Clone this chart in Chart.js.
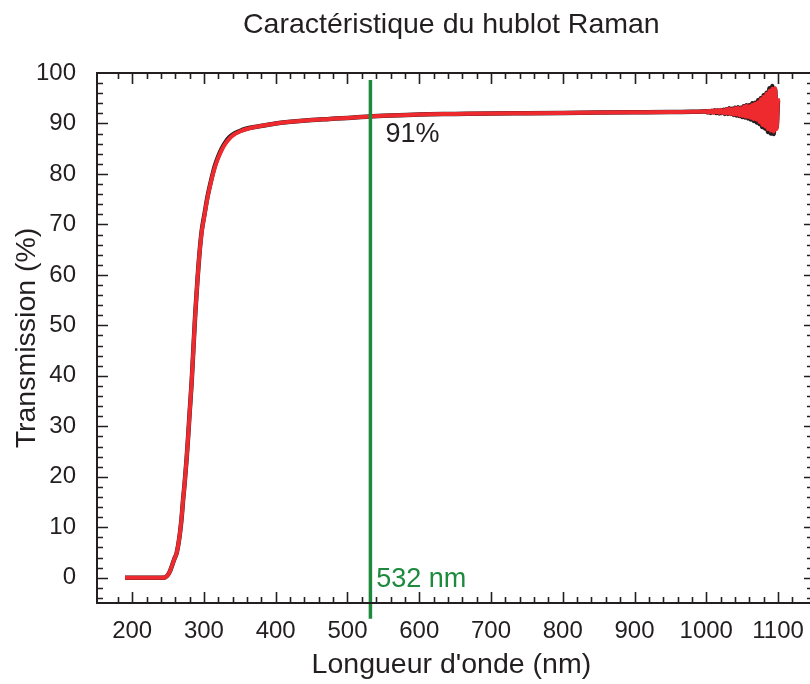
<!DOCTYPE html>
<html>
<head>
<meta charset="utf-8">
<script src="https://cdn.jsdelivr.net/npm/chart.js@4/dist/chart.umd.min.js"></script>
<style>
  html, body { margin: 0; padding: 0; background: #fff; overflow: hidden; }
  #wrap { width: 810px; height: 684px; }
</style>
</head>
<body>
<div id="wrap"><canvas id="ramanChart" width="810" height="684"></canvas></div>
<script>
// wavelength grid (nm)
const wavelengths = [
  190, 200, 220, 240, 246, 250, 253, 256, 259, 262, 265, 267, 269, 271, 273, 276, 278, 280,
  283, 285, 288, 291, 294, 297, 301, 305, 310, 315, 320, 325, 330, 335, 340, 350, 360, 375,
  400, 425, 450, 475, 500, 530, 560, 600, 650, 700, 750, 800, 850, 900, 950, 980,
  1000, 1002, 1004, 1006, 1008, 1010, 1012, 1014, 1016, 1018, 1020, 1022, 1024, 1026, 1028,
  1030, 1032, 1034, 1036, 1038, 1040, 1042, 1044, 1046, 1048, 1050, 1052, 1054, 1056, 1058,
  1060, 1062, 1064, 1066, 1068, 1070, 1072, 1074, 1076, 1078, 1080, 1082, 1084, 1086, 1088,
  1090, 1092, 1094, 1096, 1098, 1100
];

// transmission (%), second measurement (red)
const transRed = [
  0, 0, 0, 0, 0.1, 0.6, 1.4, 2.6, 3.8, 4.9, 7.2, 9.3, 12, 15.5, 18.5, 23.8, 28, 32.5,
  39, 44.5, 52.5, 59, 64.5, 68.6, 72, 75.3, 78.5, 81.2, 83.2, 84.8, 86, 86.9, 87.6, 88.4, 88.9, 89.4,
  90, 90.4, 90.7, 90.9, 91.1, 91.4, 91.6, 91.8, 91.9, 92, 92.05, 92.1, 92.15, 92.2, 92.25, 92.3,
  92.4, 92.2, 92.5, 92.2, 92.5, 92.1, 92.6, 92.2, 92.6, 92.1, 92.7, 92.1, 92.6, 92.0, 92.8,
  92.0, 92.9, 91.9, 92.8, 91.8, 93.0, 91.8, 93.1, 91.6, 93.0, 91.5, 93.3, 91.4, 93.5, 91.3,
  93.4, 91.1, 93.7, 90.9, 93.9, 90.8, 94.2, 90.3, 94.8, 89.7, 95.3, 89.4, 95.9, 88.9, 96.5,
  88.6, 96.9, 88.4, 97.0, 88.9, 95.0
];

// transmission (%), first measurement (black)
const transBlack = [
  0, 0, 0, 0, 0.1, 0.6, 1.4, 2.6, 3.8, 4.9, 7.2, 9.3, 12, 15.5, 18.5, 23.8, 28, 32.5,
  39, 44.5, 52.5, 59, 64.6, 68.8, 72.2, 75.5, 78.7, 81.5, 83.5, 85.1, 86.3, 87.2, 87.8, 88.5, 89.0, 89.4,
  90, 90.4, 90.7, 90.9, 91.1, 91.4, 91.6, 91.8, 91.9, 92, 92.05, 92.1, 92.15, 92.2, 92.25, 92.3,
  92.4, 92.2, 92.4, 92.1, 92.5, 92.2, 92.6, 92.1, 92.6, 92.0, 92.6, 92.1, 92.7, 91.9, 92.8,
  91.9, 93.0, 91.9, 92.9, 91.7, 93.1, 91.6, 93.2, 91.5, 93.1, 91.3, 93.4, 91.2, 93.6, 91.0,
  93.6, 90.8, 94.0, 90.5, 94.1, 90.2, 94.6, 89.9, 95.0, 89.3, 95.6, 89.0, 96.1, 88.3, 97.0,
  88.0, 97.4, 87.9, 96.7, 89.3, 94.6
];

// laser line marker
const laserLine = { x: [532, 532], y: [-8.1, 98.6] };

const xTicks = [200, 300, 400, 500, 600, 700, 800, 900, 1000, 1100];
const yTicks = [0, 10, 20, 30, 40, 50, 60, 70, 80, 90, 100];

const INK = '#231f20';
const RED = '#ee2a2f';
const GREEN = '#1d8a3d';
const FONT = "'Liberation Sans', Arial, sans-serif";

const toPoints = (xs, ys) => xs.map((x, i) => ({ x: x, y: ys[i] }));

// left/top/bottom spines with inward major/minor ticks; right ticks hang from the edge
const framePlugin = {
  id: 'frame',
  afterDatasetsDraw(chart) {
    const { ctx, chartArea: a, scales: { x, y } } = chart;
    const right = chart.width;
    ctx.save();
    ctx.strokeStyle = INK;
    ctx.lineWidth = 2;
    ctx.beginPath();
    ctx.moveTo(right, a.top); ctx.lineTo(a.left, a.top);
    ctx.lineTo(a.left, a.bottom); ctx.lineTo(right, a.bottom);
    ctx.stroke();
    ctx.lineWidth = 1.6;
    ctx.beginPath();
    for (let v = 180; v <= x.max; v += 20) {
      const px = Math.round(x.getPixelForValue(v)) + 0.5;
      const len = v % 100 === 0 ? 11 : 6;
      ctx.moveTo(px, a.bottom); ctx.lineTo(px, a.bottom - len);
      ctx.moveTo(px, a.top); ctx.lineTo(px, a.top + len);
    }
    for (let v = -4; v <= 98; v += 2) {
      const py = Math.round(y.getPixelForValue(v)) + 0.5;
      const len = v % 10 === 0 ? 6 : 3;
      ctx.moveTo(a.left, py); ctx.lineTo(a.left + (v % 10 === 0 ? 11 : 6), py);
      ctx.moveTo(right, py); ctx.lineTo(right - len, py);
    }
    ctx.stroke();
    ctx.restore();
  }
};

// value labels next to the laser line
const notesPlugin = {
  id: 'notes',
  afterDraw(chart) {
    const { ctx, scales: { x, y } } = chart;
    ctx.save();
    ctx.font = '27px ' + FONT;
    ctx.textAlign = 'left';
    ctx.textBaseline = 'middle';
    ctx.fillStyle = INK;
    ctx.fillText('91%', x.getPixelForValue(553), y.getPixelForValue(87.8));
    ctx.fillStyle = GREEN;
    ctx.fillText('532 nm', x.getPixelForValue(540), y.getPixelForValue(-0.3));
    ctx.restore();
  }
};

new Chart(document.getElementById('ramanChart'), {
  type: 'line',
  data: {
    datasets: [
      {
        label: '532 nm',
        data: toPoints(laserLine.x, laserLine.y),
        borderColor: GREEN,
        borderWidth: 3.5,
        pointRadius: 0,
        clip: false
      },
      {
        label: 'Mesure 2',
        data: toPoints(wavelengths, transRed),
        borderColor: RED,
        borderWidth: 4,
        pointRadius: 0,
        cubicInterpolationMode: 'monotone'
      },
      {
        label: 'Mesure 1',
        data: toPoints(wavelengths, transBlack),
        borderColor: INK,
        borderWidth: 4.5,
        pointRadius: 0,
        cubicInterpolationMode: 'monotone'
      }
    ]
  },
  options: {
    responsive: false,
    animation: false,
    events: [],
    layout: { padding: { left: 0, right: 0, top: 0, bottom: 0 } },
    plugins: {
      legend: { display: false },
      tooltip: { enabled: false },
      title: {
        display: true,
        fullSize: false,
        text: 'Caractéristique du hublot Raman',
        color: INK,
        font: { family: FONT, size: 28.5, weight: 'normal' },
        padding: { top: 7.9, bottom: 30.9 }
      }
    },
    scales: {
      x: {
        type: 'linear',
        min: 151,
        max: 1138.6,
        afterFit: s => { s.height = 81; },
        afterBuildTicks: s => { s.ticks = xTicks.map(v => ({ value: v })); },
        grid: { display: false },
        border: { display: false },
        ticks: {
          color: INK,
          font: { family: FONT, size: 24 },
          padding: 6,
          maxRotation: 0,
          autoSkip: false,
          callback: v => String(v)
        },
        title: {
          display: true,
          text: "Longueur d'onde (nm)",
          color: INK,
          font: { family: FONT, size: 28.5 },
          padding: { top: 0, bottom: 2 }
        }
      },
      y: {
        min: -5,
        max: 100,
        afterFit: s => { s.width = 97; },
        afterBuildTicks: s => { s.ticks = yTicks.map(v => ({ value: v })); },
        grid: { display: false },
        border: { display: false },
        ticks: {
          color: INK,
          font: { family: FONT, size: 24 },
          padding: 13,
          autoSkip: false,
          callback: v => String(v)
        },
        title: {
          display: true,
          text: 'Transmission (%)',
          color: INK,
          font: { family: FONT, size: 28.5 },
          padding: { top: 10, bottom: 0 }
        }
      }
    }
  },
  plugins: [framePlugin, notesPlugin]
});
</script>
</body>
</html>
